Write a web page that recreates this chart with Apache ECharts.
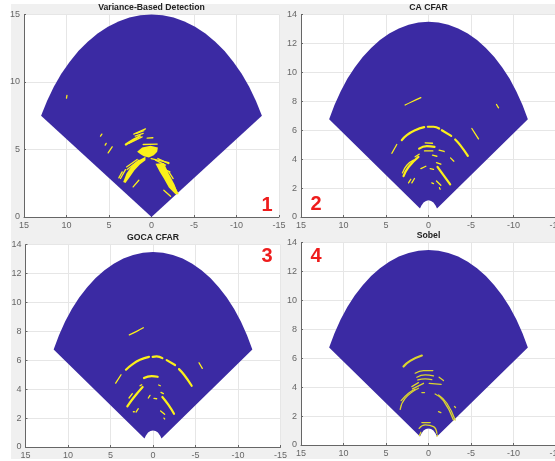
<!DOCTYPE html>
<html>
<head>
<meta charset="utf-8">
<style>
  html, body { margin: 0; padding: 0; background: #fff; }
  #chart { width: 555px; height: 461px; }
</style>
<script src="https://cdn.jsdelivr.net/npm/echarts@6/dist/echarts.min.js"></script>
</head>
<body>
<div id="chart"></div>
<script>
const titles = ['Variance-Based Detection', 'CA CFAR', 'GOCA CFAR', 'Sobel'];
const xTicks = [15, 10, 5, 0, -5, -10, -15];

// sector outlines, range 15 (panel 1) and 13.5 with the near-range notch (panels 2-4)
const sector15 = [[0,0],[12.99,7.5],[12.29,8.6],[11.49,9.64],[10.61,10.61],[9.64,11.49],[8.6,12.29],[7.5,12.99],[6.34,13.59],[5.13,14.1],[3.88,14.49],[2.6,14.77],[1.31,14.94],[0,15],
  [-1.31,14.94],[-2.6,14.77],[-3.88,14.49],[-5.13,14.1],[-6.34,13.59],[-7.5,12.99],[-8.6,12.29],[-9.64,11.49],[-10.61,10.61],[-11.49,9.64],[-12.29,8.6],[-12.99,7.5]];
const sector135 = [[1,0.58],[11.69,6.75],[11.06,7.74],[10.34,8.68],[9.55,9.55],[8.68,10.34],[7.74,11.06],[6.75,11.69],[5.71,12.24],[4.62,12.69],[3.49,13.04],[2.34,13.29],[1.18,13.45],[0,13.5],
  [-1.18,13.45],[-2.34,13.29],[-3.49,13.04],[-4.62,12.69],[-5.71,12.24],[-6.75,11.69],[-7.74,11.06],[-8.68,10.34],[-9.55,9.55],[-10.34,8.68],[-11.06,7.74],[-11.69,6.75],
  [-1,0.58],[-0.85,0.78],[-0.58,1],[-0.3,1.11],[0,1.15],[0.3,1.11],[0.58,1],[0.85,0.78]];

// variance detection
const varBlobs = [
  [[1.69,4.83],[1.1,5.15],[0.12,5.27],[-0.75,5.15],[-0.67,4.83],[-0.27,4.58],[0.31,4.41],[0.9,4.5],[1.29,4.65]],
  [[3.33,2.6],[2.94,3.22],[2.27,3.84],[1.49,4.21],[0.71,4.46],[0.71,4.21],[1.37,3.89],[2,3.47],[2.55,2.97],[3.06,2.52]],
  [[-0.47,3.95],[-1.45,4],[-2.04,3.2],[-2.71,2.4],[-3.14,1.68],[-2.82,1.68],[-2.04,2.18],[-1.45,2.85],[-0.98,3.34]]
];
const varThick = [
  [[3.02,5.37],[2.08,5.74],[1.37,5.99]]
];
const varThin = [
  [[2.08,6.14],[0.71,6.53]], [[1.76,6.19],[0.9,6.39]], [[1.92,5.99],[0.98,6.19]], [[2.67,5.45],[1.1,5.94]],
  [[0.51,5.84],[-0.16,5.87]], [[0.98,5.37],[-0.67,5.4]],
  [[3.84,2.9],[3.45,3.34]], [[3.65,2.85],[3.06,3.51]], [[2.94,3.71],[1.69,4.26]], [[2.86,3.51],[1.49,4.21]],
  [[2.16,2.23],[1.49,2.72]], [[5.1,4.75],[4.63,5.2]], [[5.45,5.32],[5.33,5.45]],
  [[6,5.99],[5.84,6.14]], [[10,8.8],[9.95,9]],
  [[0.04,4.33],[-2.04,4.03]], [[-0.47,4.21],[-1.65,3.84]], [[-1.06,3.66],[-2.16,3.34]], [[-0.75,4.33],[-2.04,3.96]],
  [[-1.45,1.98],[-2.24,1.53]], [[-2.04,3.34],[-2.55,2.85]], [[-2.43,2.52],[-3.1,1.73]]
];

// CA CFAR detection
const caThick = [
  [[3.14,5.31],[2.55,5.66],[1.57,6],[0.51,6.21]],
  [[0.08,6.24],[-0.59,6.24],[-1.25,6.12]],
  [[-1.57,6],[-2.67,5.61]],
  [[-3.14,5.36],[-3.73,4.97],[-4.63,4.23]],
  [[1.1,4.73],[0.2,4.9],[-0.71,4.85]],
  [[2.94,2.82],[2.35,3.46],[1.18,4.16]],
  [[-1.06,3.46],[-1.76,2.89],[-2.55,2.26]]
];
const caThin = [
  [[2.75,7.74],[1.96,7.97],[0.9,8.25]], [[-8,7.78],[-8.24,7.55]], [[-5.1,6.12],[-5.88,5.4]],
  [[4.31,4.41],[3.73,5.01]], [[0.39,5.13],[-0.47,5.1]], [[0.47,4.57],[-0.51,4.57]],
  [[-0.47,4.27],[-0.98,4.2]], [[-1.25,4.62],[-1.84,4.53]], [[-2.59,4.09],[-2.98,3.86]],
  [[3.06,3.05],[2.55,3.58],[1.76,3.93]], [[1.57,4.16],[1.1,4.34]],
  [[2.35,2.36],[2.08,2.61]], [[1.96,2.36],[1.65,2.66]], [[0.9,3.35],[0.31,3.51]],
  [[-0.2,3.35],[-0.59,3.3]], [[-0.94,3.76],[-1.45,3.65]], [[-0.39,2.36],[-0.59,2.31]],
  [[-0.94,2.49],[-1.45,2.19]], [[-1.29,2.03],[-1.37,1.92]]
];

// GOCA CFAR detection
const gocaThick = [
  [[3.18,5.35],[2.51,5.69],[1.53,6.04],[0.47,6.24]],
  [[0.04,6.24],[-0.43,6.27],[-1.1,6.15]],
  [[-1.61,6.01],[-2.59,5.67]],
  [[-3.06,5.39],[-3.65,5],[-4.55,4.24]],
  [[1.06,4.77],[0.16,4.91],[-0.55,4.86]],
  [[3.02,2.81],[2.31,3.39],[1.22,4.15]],
  [[-1.1,3.46],[-1.8,2.93],[-2.47,2.3]]
];
const gocaThin = [
  [[2.78,7.76],[1.92,8],[1.14,8.25]], [[-5.41,5.83],[-5.8,5.44]], [[4.39,4.42],[3.76,5]],
  [[-0.67,4.29],[-0.86,4.24]], [[-0.94,3.78],[-1.22,3.69]], [[2.82,3.39],[2.43,3.69]],
  [[1.53,4.24],[1.33,4.31]], [[2.31,2.44],[2.2,2.44]], [[2,2.42],[1.73,2.65]],
  [[0.55,3.39],[0.35,3.57]], [[-0.12,3.36],[-0.43,3.34]], [[-0.9,2.49],[-1.37,2.26]],
  [[-1.29,2],[-1.37,1.94]]
];

// Sobel detection
const sobelThick = [
  [[2.94,5.43],[2.16,5.82],[0.78,6.19]]
];
const sobelThin = [
  [[1.57,4.97],[0.59,5.15],[-0.51,5.15]], [[1.37,4.69],[0.39,4.85],[-0.59,4.78]],
  [[1.25,4.5],[0.39,4.57],[-0.39,4.53]], [[-0.08,4.27],[-1.49,4.2]], [[-1.25,4.69],[-1.76,4.46]],
  [[1.96,4.04],[1.18,4.32]], [[1.88,3.88],[0.59,4.27]],
  [[3.33,2.47],[2.75,3.23],[1.18,3.93]], [[3.22,3.07],[2.35,3.58],[1.57,3.86]],
  [[0.78,3.63],[0.47,3.63]], [[-0.78,3.53],[-1.76,3.07],[-2.94,1.73]],
  [[-1.18,3.46],[-2.16,2.89],[-3.14,1.73]], [[-3.06,2.66],[-3.18,2.59]], [[-1.18,2.31],[-1.45,2.24]],
  [[1.1,1.15],[0.39,1.39],[-0.59,1.27],[-0.98,0.81]], [[0.78,1.55],[-0.2,1.55]],
  [[0.9,0.88],[1.06,0.65]], [[-1.06,0.69],[-0.98,0.62]]
];

const BLUE = '#3b2aa3';
const YELLOW = '#fbf01a';
const MUSTARD = '#dcd52e';

// 四个子图的位置
const panels = [
  { left: 24, top: 14.5, width: 255, height: 202.5, yMax: 15, yStep: 5, sector: sector15, blobs: varBlobs, thick: varThick, thin: varThin, color: YELLOW, titleY: 3, tag: '1', tagX: 267, tagY: 205 },
  { left: 301, top: 14.5, width: 255, height: 202.5, yMax: 14, yStep: 2, sector: sector135, blobs: [], thick: caThick, thin: caThin, color: YELLOW, titleY: 3, tag: '2', tagX: 316, tagY: 204 },
  { left: 25.5, top: 244.7, width: 255, height: 202.3, yMax: 14, yStep: 2, sector: sector135, blobs: [], thick: gocaThick, thin: gocaThin, color: YELLOW, titleY: 233, tag: '3', tagX: 267, tagY: 256 },
  { left: 301, top: 242.7, width: 255, height: 202.3, yMax: 14, yStep: 2, sector: sector135, blobs: [], thick: sobelThick, thin: sobelThin, color: MUSTARD, titleY: 231, tag: '4', tagX: 316, tagY: 256 }
];

function polygonSeries(i, pts, color, z) {
  return {
    type: 'custom',
    xAxisIndex: i,
    yAxisIndex: i,
    coordinateSystem: 'cartesian2d',
    silent: true,
    z: z,
    clip: false,
    data: pts,
    encode: { x: 0, y: 1 },
    renderItem: function (params, api) {
      if (params.dataIndex !== 0) return null;
      return {
        type: 'polygon',
        shape: { points: pts.map(p => api.coord(p)) },
        style: { fill: color }
      };
    }
  };
}

function strokeSeries(i, pts, color, width) {
  return {
    type: 'line',
    xAxisIndex: i,
    yAxisIndex: i,
    data: pts,
    smooth: 0.5,
    showSymbol: false,
    symbol: 'none',
    silent: true,
    z: 5,
    lineStyle: { color: color, width: width, cap: 'round' }
  };
}

const grid = [], xAxis = [], yAxis = [], series = [], title = [];
const graphic = [{ type: 'rect', z: -10, shape: { x: 11, y: 4, width: 544, height: 455 }, style: { fill: '#f0f0f0' } }];

panels.forEach((p, i) => {
  grid.push({ left: p.left, top: p.top, width: p.width, height: p.height, show: true, backgroundColor: '#fff', borderWidth: 0, outerBoundsMode: 'none' });
  xAxis.push({
    type: 'value', gridIndex: i, min: -15, max: 15, interval: 5, inverse: true,
    axisLine: { onZero: false, lineStyle: { color: '#666', width: 1 } },
    axisTick: { inside: true, length: 2, lineStyle: { color: '#666' } },
    axisLabel: { color: '#666', fontSize: 9, fontFamily: 'Liberation Sans', margin: 4, hideOverlap: false, showMinLabel: true, showMaxLabel: true },
    splitLine: { show: true, lineStyle: { color: '#e6e6e6', width: 1 } }
  });
  yAxis.push({
    type: 'value', gridIndex: i, min: 0, max: p.yMax, interval: p.yStep,
    axisLine: { onZero: false, show: true, lineStyle: { color: '#666', width: 1 } },
    axisTick: { show: true, inside: true, length: 2, lineStyle: { color: '#666' } },
    axisLabel: { color: '#666', fontSize: 9, fontFamily: 'Liberation Sans', margin: 4, showMinLabel: true, showMaxLabel: true },
    splitLine: { show: true, lineStyle: { color: '#e6e6e6', width: 1 } }
  });
  title.push({
    text: titles[i],
    left: p.left + 127.5,
    top: p.titleY,
    textAlign: 'center',
    padding: 0,
    textStyle: { fontSize: 8.7, fontWeight: 'bold', color: '#222', fontFamily: 'Liberation Sans' }
  });
  graphic.push({
    type: 'text', z: 100, x: p.tagX, y: p.tagY,
    style: { text: p.tag, fill: '#ee1c1c', font: 'bold 20px "Liberation Sans"', textAlign: 'center', textVerticalAlign: 'middle' }
  });
  series.push(polygonSeries(i, p.sector, BLUE, 2));
  p.blobs.forEach(b => series.push(polygonSeries(i, b, p.color, 4)));
  p.thick.forEach(s => series.push(strokeSeries(i, s, p.color, 2.2)));
  p.thin.forEach(s => series.push(strokeSeries(i, s, p.color, 1.3)));
});

const myChart = echarts.init(document.getElementById('chart'));
myChart.setOption({
  animation: false,
  backgroundColor: '#fff',
  title: title,
  grid: grid,
  xAxis: xAxis,
  yAxis: yAxis,
  series: series,
  graphic: graphic
});
</script>
</body>
</html>
